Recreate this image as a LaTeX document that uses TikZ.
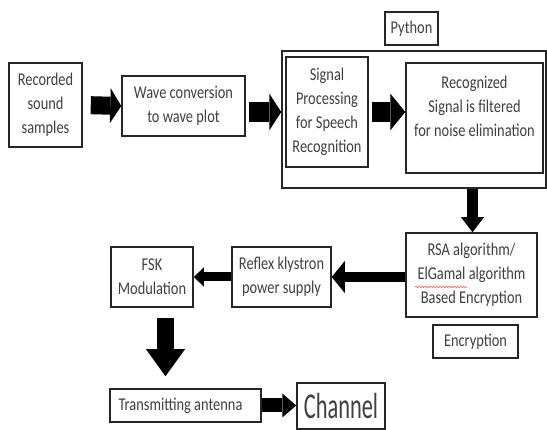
\documentclass[tikz,border=0pt]{standalone}
\usepackage{fontspec}
\setmainfont{Carlito}[FakeStretch=0.8]
\usetikzlibrary{arrows.meta,calc,decorations.pathmorphing}
\tikzset{
  box/.style={draw=black!85, line width=1.5pt, inner sep=0pt, align=center,
    text=black!75, font=\fontsize{18}{24}\selectfont},
  txt/.style={inner sep=0pt, align=center, text=black!75, font=\fontsize{18}{24}\selectfont},
  blockarr/.style n args={3}{draw=black, line width=#1,
    -{Triangle[length=#3 0 0, width=#2 0 0, line width=0pt 0 0]}},
}
\begin{document}
\begin{tikzpicture}[x=1pt,y=-1pt]
\useasboundingbox[fill=white] (0,0) rectangle (547,430);
% nodes
\node[box, minimum width=73pt, minimum height=84pt] (rec) at (45.5,105) {Recorded\\sound\\samples};
\node[box, minimum width=123pt, minimum height=60pt] (wave) at (183.5,106) {Wave conversion\\to wave plot};
\node[box, minimum width=53pt, minimum height=33pt] (pylab) at (411.5,28.5) {Python};
\node[box, minimum width=264pt, minimum height=137pt] (py) at (414,119.5) {};
\node[box, minimum width=82pt, minimum height=110pt] (sp) at (327,112) {Signal\\Processing\\for Speech\\Recognition};
\node[box, minimum width=137pt, minimum height=110pt] (rn) at (474.5,118) {};
\node[txt] (rntxt) at (474.5,106) {Recognized\\Signal is filtered\\for noise elimination};
\node[box, minimum width=131pt, minimum height=84pt] (rsa) at (471.5,275) {RSA algorithm/\\ElGamal algorithm\\Based Encryption};
\node[box, minimum width=85pt, minimum height=33pt] (enc) at (475.5,341.5) {Encryption};
\node[box, minimum width=99pt, minimum height=60pt] (refl) at (281.5,277) {Reflex klystron\\power supply};
\node[box, minimum width=82pt, minimum height=60pt] (fsk) at (152,277) {FSK\\Modulation};
\node[box, minimum width=151pt, minimum height=33pt] (trans) at (185.5,405.5) {\hspace*{-10pt}Transmitting antenna};
\node[box, minimum width=88pt, minimum height=46pt] (chan) at (341,406) {\scalebox{1}[1.3]{\fontsize{28}{30}\selectfont Channel}};
% spell-check squiggle
\draw[red!65, line width=0.6pt, decorate, decoration={snake, amplitude=0.7pt, segment length=3pt}] (415,287) -- (467,287);
% arrows
\draw[blockarr={18pt}{35pt}{11pt}, shorten <=8pt] (rec.east) -- (wave.west);
\draw[blockarr={20pt}{37pt}{12pt}, shorten <=3pt] (wave.east |- sp.west) -- (py.west |- sp.west);
\draw[blockarr={20pt}{37pt}{15pt}, shorten <=3pt] (sp.east) -- (rn.west |- sp.east);
\draw[blockarr={11pt}{23pt}{15pt}] ($(rsa.north |- py.south)+(1,0)$) -- ($(rsa.north)+(1,0)$);
\draw[blockarr={10pt}{32pt}{13pt}] (rsa.west |- refl.east) -- (refl.east);
\draw[blockarr={9pt}{19pt}{10pt}] (refl.west) -- (fsk.east);
\draw[blockarr={17pt}{39pt}{27pt}] ($(fsk.south)+(13.5,10)$) -- ($(fsk.south |- trans.north)+(13.5,-12)$);
\draw[blockarr={14pt}{24pt}{14pt}] (trans.east) -- (chan.west |- trans.east);
\end{tikzpicture}
\end{document}
